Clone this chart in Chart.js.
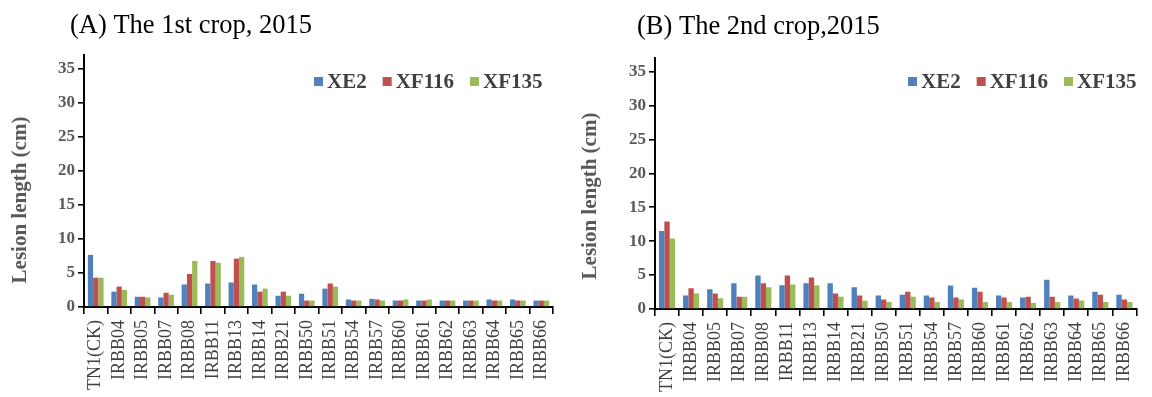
<!DOCTYPE html>
<html>
<head>
<meta charset="utf-8">
<script src="https://cdn.jsdelivr.net/npm/chart.js@4"></script>
<style>
  html, body { margin: 0; padding: 0; background: #fff; }
  #wrap { position: relative; width: 1152px; height: 397px; overflow: hidden; }
  .panel { position: absolute; top: 0; width: 576px; height: 397px; }
  #panelA { left: 0; }
  #panelB { left: 576px; }
</style>
</head>
<body>
<div id="wrap">
  <div class="panel" id="panelA"><canvas id="chartA"></canvas></div>
  <div class="panel" id="panelB"><canvas id="chartB"></canvas></div>
</div>
<script>
// Rice lines inoculated with three Xanthomonas strains
const categories = ['TN1(CK)', 'IRBB04', 'IRBB05', 'IRBB07', 'IRBB08', 'IRBB11', 'IRBB13', 'IRBB14', 'IRBB21', 'IRBB50',
                    'IRBB51', 'IRBB54', 'IRBB57', 'IRBB60', 'IRBB61', 'IRBB62', 'IRBB63', 'IRBB64', 'IRBB65', 'IRBB66'];
const seriesNames = ['XE2', 'XF116', 'XF135'];
const seriesColors = ['#4F81BD', '#C0504D', '#9BBB59'];
const yTickValues = [0, 5, 10, 15, 20, 25, 30, 35];
const yAxisTitle = 'Lesion length (cm)';

// Lesion length (cm), first crop
const crop1XE2   = [7.65, 2.25, 1.5, 1.4, 3.3, 3.45, 3.6, 3.3, 1.65, 1.95, 2.7, 1.1, 1.2, 0.95, 0.95, 0.95, 0.95, 1.1, 1.1, 0.95];
const crop1XF116 = [4.3, 3.0, 1.5, 2.1, 4.85, 6.75, 7.1, 2.25, 2.25, 0.95, 3.45, 0.95, 1.1, 0.95, 0.95, 0.95, 0.95, 0.95, 0.95, 0.95];
const crop1XF135 = [4.3, 2.5, 1.4, 1.8, 6.75, 6.5, 7.35, 2.7, 1.65, 0.95, 3.0, 0.95, 0.95, 1.1, 1.1, 0.95, 0.95, 0.95, 0.95, 0.95];

// Lesion length (cm), second crop
const crop2XE2   = [11.5, 2.0, 2.9, 3.8, 4.95, 3.5, 3.8, 3.8, 3.2, 2.0, 2.1, 2.0, 3.45, 3.15, 2.0, 1.7, 4.3, 2.0, 2.55, 2.1];
const crop2XF116 = [12.9, 3.05, 2.3, 1.8, 3.8, 4.95, 4.65, 2.3, 2.0, 1.4, 2.55, 1.7, 1.7, 2.55, 1.7, 1.8, 1.8, 1.55, 2.1, 1.4];
const crop2XF135 = [10.4, 2.3, 1.57, 1.8, 3.2, 3.6, 3.5, 1.8, 1.2, 1.05, 1.8, 1.05, 1.4, 1.05, 1.05, 0.9, 1.05, 1.25, 1.05, 1.05];

const SERIF = '"Liberation Serif", "Times New Roman", serif';

// Heading, rotated axis title and an inline legend drawn on top of each chart
const panelText = {
  id: 'panelText',
  afterDraw(chart, args, o) {
    const ctx = chart.ctx;
    ctx.save();

    ctx.fillStyle = '#000';
    ctx.font = o.headingSize + 'px ' + SERIF;
    ctx.textAlign = 'left';
    ctx.textBaseline = 'middle';
    ctx.fillText(o.heading, o.headingX, o.headingY);

    ctx.save();
    ctx.translate(o.axisTitleX, o.axisTitleY);
    ctx.rotate(-Math.PI / 2);
    ctx.font = 'bold 21px ' + SERIF;
    ctx.fillStyle = '#595959';
    ctx.textAlign = 'center';
    ctx.fillText(yAxisTitle, 0, 0);
    ctx.restore();

    ctx.font = 'bold 21px ' + SERIF;
    ctx.textAlign = 'left';
    let x = o.legendX;
    const y = o.legendY;
    chart.data.datasets.forEach(ds => {
      ctx.fillStyle = ds.backgroundColor;
      ctx.fillRect(x, y - 4.5, 9, 9);
      x += 13;
      ctx.fillStyle = '#404040';
      ctx.fillText(ds.label, x, y + 1);
      x += ctx.measureText(ds.label).width + 16;
    });
    ctx.restore();
  }
};

function makeChart(id, values, layoutPad, yWidth, xHeight, text) {
  const datasets = values.map((vals, i) => ({
    label: seriesNames[i],
    data: vals,
    backgroundColor: seriesColors[i],
    borderWidth: 0,
    barPercentage: 1.0,
    categoryPercentage: 0.67
  }));
  return new Chart(document.getElementById(id), {
    type: 'bar',
    data: { labels: categories, datasets },
    plugins: [panelText],
    options: {
      responsive: true,
      maintainAspectRatio: false,
      animation: false,
      layout: { padding: layoutPad },
      plugins: {
        legend: { display: false },
        title: { display: false },
        tooltip: { enabled: false },
        panelText: text
      },
      scales: {
        x: {
          grid: { display: true, drawOnChartArea: false, drawTicks: true, tickLength: 7, color: '#000', lineWidth: 1.6, offset: true },
          border: { display: true, color: '#000', width: 2 },
          ticks: {
            autoSkip: false, maxRotation: 90, minRotation: 90, padding: 6,
            color: '#404040', font: { family: SERIF, size: 18 }
          },
          afterFit(scale) { scale.height = xHeight; }
        },
        y: {
          min: 0, max: 37,
          grid: { display: true, drawOnChartArea: false, drawTicks: true, tickLength: 6, color: '#000', lineWidth: 1.6 },
          border: { display: true, color: '#000', width: 2 },
          ticks: {
            padding: 3, color: '#595959', font: { family: SERIF, size: 17, weight: 'bold' }
          },
          afterBuildTicks(scale) { scale.ticks = yTickValues.map(v => ({ value: v })); },
          afterFit(scale) { scale.width = yWidth; }
        }
      }
    }
  });
}

makeChart('chartA', [crop1XE2, crop1XF116, crop1XF135],
  { left: 0, right: 23, top: 55, bottom: 0 }, 84, 90,
  { heading: '(A) The 1st crop, 2015', headingSize: 26.5, headingX: 70, headingY: 26,
    axisTitleX: 21, axisTitleY: 200, legendX: 314, legendY: 81.5 });

makeChart('chartB', [crop2XE2, crop2XF116, crop2XF135],
  { left: 0, right: 0, top: 58, bottom: 0 }, 79, 88,
  { heading: '(B) The 2nd crop,2015', headingSize: 26.5, headingX: 61, headingY: 27,
    axisTitleX: 15, axisTitleY: 196, legendX: 332, legendY: 81.5 });
</script>
</body>
</html>
